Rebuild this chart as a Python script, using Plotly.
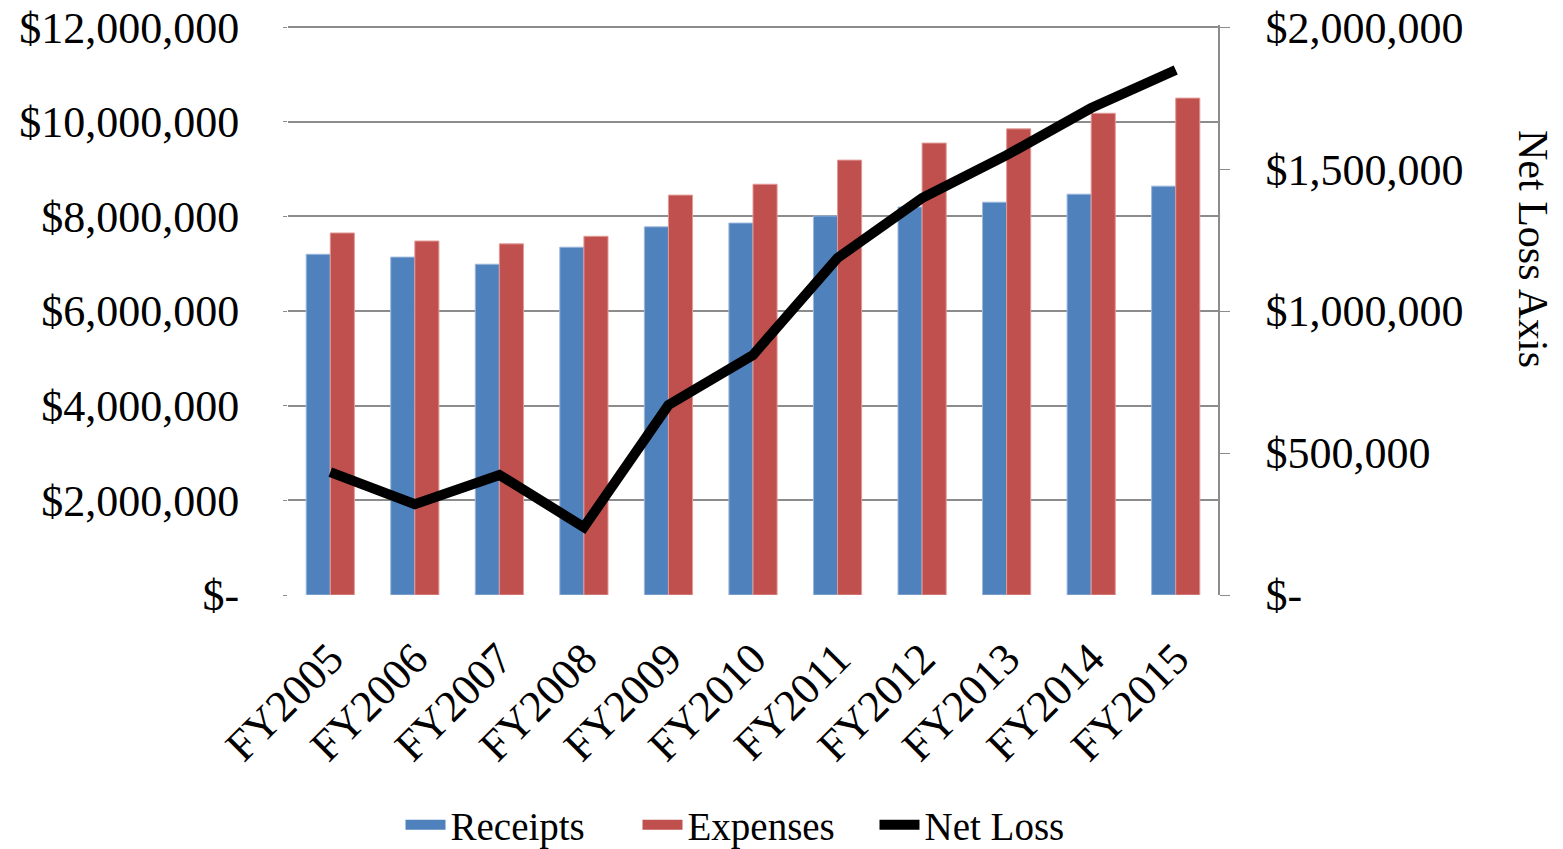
import plotly.graph_objects as go

categories = ["FY2005", "FY2006", "FY2007", "FY2008", "FY2009", "FY2010",
              "FY2011", "FY2012", "FY2013", "FY2014", "FY2015"]
receipts = [7200000, 7140000, 6990000, 7350000, 7780000, 7860000,
            8010000, 8200000, 8300000, 8470000, 8640000]
expenses = [7650000, 7480000, 7420000, 7580000, 8450000, 8680000,
            9190000, 9550000, 9850000, 10180000, 10500000]
net_loss = [433000, 320000, 423000, 239000, 669000, 845000,
            1187000, 1398000, 1549000, 1715000, 1849000]

left_tickvals = [0, 2000000, 4000000, 6000000, 8000000, 10000000, 12000000]
left_ticktext = ["$-", "$2,000,000", "$4,000,000", "$6,000,000", "$8,000,000",
                 "$10,000,000", "$12,000,000"]
right_tickvals = [0, 500000, 1000000, 1500000, 2000000]
right_ticktext = ["$-", "$500,000", "$1,000,000", "$1,500,000", "$2,000,000"]

FONT = "Liberation Serif"
GRID = "#8c8c8c"
BLUE = "#4f81bd"
RED = "#c0504d"

# page has an 8px body margin; plot area in page pixels: x 288..1218, y 25..595
W, H = 1555, 841
PX0, PX1, PY0, PY1 = 288, 1218, 25, 595
def px(x):
    return (x - PX0) / (PX1 - PX0)
def py(y):
    return (PY1 - y) / (PY1 - PY0)

fig = go.Figure()
fig.add_trace(go.Bar(x=categories, y=receipts, name="Receipts", showlegend=False,
                     marker=dict(color=BLUE, line=dict(color="#9db8dc", width=1))))
fig.add_trace(go.Bar(x=categories, y=expenses, name="Expenses", showlegend=False,
                     marker=dict(color=RED, line=dict(color="#e09a98", width=1))))
fig.add_trace(go.Scatter(x=categories, y=net_loss, name="Net Loss", yaxis="y2",
                         mode="lines", showlegend=False,
                         line=dict(color="black", width=10)))
# legend entries (wide swatches like the original)
fig.add_trace(go.Scatter(x=[None], y=[None], name="Receipts", mode="lines",
                         line=dict(color=BLUE, width=22)))
fig.add_trace(go.Scatter(x=[None], y=[None], name="Expenses", mode="lines",
                         line=dict(color=RED, width=22)))
fig.add_trace(go.Scatter(x=[None], y=[None], name="Net Loss", mode="lines",
                         line=dict(color="black", width=10)))

fig.update_layout(
    width=W, height=H,
    margin=dict(l=PX0 - 8, r=W - (PX1 - 8), t=PY0 - 8, b=H - (PY1 - 8), pad=0,
                autoexpand=False),
    paper_bgcolor="white", plot_bgcolor="white",
    font=dict(family=FONT, size=44, color="black"),
    barmode="group", bargap=0.43, bargroupgap=0,
    showlegend=True,
    legend=dict(orientation="h", x=px(756), xanchor="center", y=py(825),
                yanchor="middle", font=dict(family=FONT, size=39),
                traceorder="normal", itemwidth=40, entrywidth=182),
    xaxis=dict(type="category", tickangle=-45, showgrid=False, showline=False,
               ticks="", automargin=False, ticklabelstandoff=28,
               tickfont=dict(family=FONT, size=44)),
    yaxis=dict(range=[0, 12045000], tickvals=left_tickvals, ticktext=left_ticktext,
               showgrid=True, gridcolor=GRID, gridwidth=1.5, zeroline=False,
               showline=False, ticks="outside", ticklen=4, tickcolor=GRID,
               automargin=False, ticklabelstandoff=35, ticklabeloverflow="allow",
               tickfont=dict(family=FONT, size=44)),
    yaxis2=dict(range=[0, 2007500], tickvals=right_tickvals, ticktext=right_ticktext,
                overlaying="y", side="right", showgrid=False, zeroline=False,
                showline=True, linecolor=GRID, linewidth=1.5,
                ticks="outside", ticklen=10, tickcolor=GRID, automargin=False,
                ticklabelstandoff=27, ticklabeloverflow="allow",
                tickfont=dict(family=FONT, size=44)),
    annotations=[dict(text="Net Loss Axis", textangle=90, xref="paper", yref="paper",
                      x=px(1533), y=py(249),
                      xanchor="center", yanchor="middle", showarrow=False,
                      font=dict(family=FONT, size=42))],
)

fig.write_html("out.html")
